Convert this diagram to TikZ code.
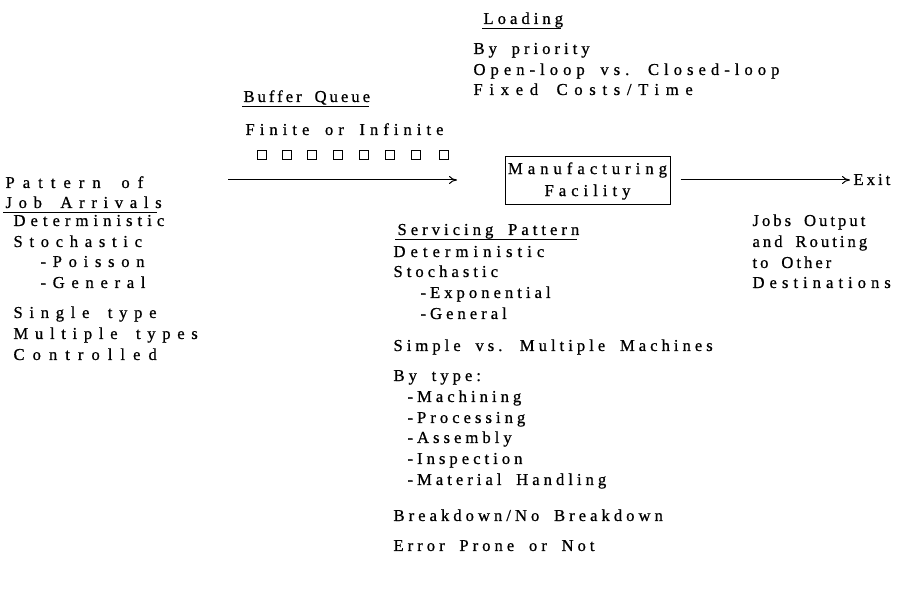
\documentclass[tikz,border=0pt]{standalone}
\usepackage{fontspec}
\setmainfont{Liberation Serif}
\newfontfamily\sptight[LetterSpace=18,WordSpace=1.8,FakeBold=0.8]{Liberation Serif}
\newfontfamily\spaced[LetterSpace=24,WordSpace=1.8,FakeBold=0.8]{Liberation Serif}
\newfontfamily\spmid[LetterSpace=30,WordSpace=1.7,FakeBold=0.8]{Liberation Serif}
\newfontfamily\spwide[LetterSpace=40,WordSpace=1.7,FakeBold=0.8]{Liberation Serif}
\newfontfamily\spwider[LetterSpace=48,WordSpace=1.7,FakeBold=0.8]{Liberation Serif}
\usetikzlibrary{calc,arrows.meta}

\tikzset{every picture/.style={line width=0.75pt}}
\tikzset{
  txt/.style={anchor=base west,inner sep=0pt,font=\fontsize{12.5}{15}\selectfont\spaced},
  txta/.style={txt,font=\fontsize{12.5}{15}\selectfont\sptight},
  txtc/.style={txt,font=\fontsize{12.5}{15}\selectfont\spmid},
  txtw/.style={txt,font=\fontsize{12.5}{15}\selectfont\spwide},
  txtww/.style={txt,font=\fontsize{12.5}{15}\selectfont\spwider},
  jobbox/.style={draw,minimum width=123.75pt,minimum height=36pt,inner sep=0pt,align=center,
    font=\fontsize{12.5}{16.5}\selectfont\spmid},
  qbox/.style={draw,line width=0.6pt,minimum size=7pt,inner sep=0pt},
  flow/.style={-{To[length=6pt,width=6pt]}}
}

\begin{document}
\begin{tikzpicture}[x=0.75pt,y=0.75pt,yscale=-1,xscale=1]
\useasboundingbox (0,0) rectangle (904,598);

% loading
\node (load) [txt] at (483,24) {Loading};
\draw ($(load.base west)+(-1,5)$) -- ($(load.base east)+(-3,5)$);
\node (load1) [txt] at (473,54) {By priority};
\node (load2) [txtc] at (473,75) {Open-loop vs. Closed-loop};
\node (load3) [txtw] at (473,95) {Fixed Costs/Time};

% buffer queue
\node (buf) [txta] at (243,102) {Buffer Queue};
\draw ($(buf.base west)+(-1,5)$) -- ($(buf.base east)+(-2,5)$);
\node (buf1) [txtc] at (245,135) {Finite or Infinite};
\foreach \i/\x in {1/262,2/287,3/312,4/338,5/364,6/390,7/416,8/444}
  \node (q\i) [qbox] at (\x,155) {};

% facility
\node (fac) [jobbox] at (587.5,181) {Manufacturing\\Facility};
\coordinate (qin) at (228,180);
\coordinate (qout) at (457,180);
\draw [flow] (qin) -- (qout);
\node (exit) [txta] at (853,185) {Exit};
\draw [flow] ($(fac.east)+(10,-1)$) -- ($(exit.base west)+(-3,-5)$);

% arrivals
\node (arr) [txtww] at (5,188) {Pattern of};
\node (arr0) [txtw] at (5,208) {Job Arrivals};
\draw ($(arr0.base west)+(-2,5)$) -- ($(arr0.base east)+(-5,5)$);
\node (arr1) [txtc] at (13,226) {Deterministic};
\node (arr2) [txtw] at (13,247) {Stochastic};
\node (arr3) [txtw] at (40,267) {-Poisson};
\node (arr4) [txtw] at (40,288) {-General};
\node (arr5) [txtw] at (13,318) {Single type};
\node (arr6) [txtw] at (13,339) {Multiple types};
\node (arr7) [txtww] at (13,360) {Controlled};

% servicing
\node (srv) [txt] at (397,235) {Servicing Pattern};
\draw ($(srv.base west)+(-2,5)$) -- ($(srv.base east)+(-3,5)$);
\node (srv1) [txtc] at (393,257) {Deterministic};
\node (srv2) [txt] at (393,277) {Stochastic};
\node (srv3) [txt] at (420,298) {-Exponential};
\node (srv4) [txt] at (420,319) {-General};
\node (srv5) [txt] at (393,351) {Simple vs. Multiple Machines};
\node (srv6) [txt] at (393,381) {By type:};
\node (srv7) [txt] at (407,402) {-Machining};
\node (srv8) [txt] at (407,423) {-Processing};
\node (srv9) [txt] at (407,443) {-Assembly};
\node (srv10) [txt] at (407,464) {-Inspection};
\node (srv11) [txt] at (407,485) {-Material Handling};
\node (srv12) [txt] at (393,521) {Breakdown/No Breakdown};
\node (srv13) [txt] at (393,551) {Error Prone or Not};

% output
\node (out1) [txta] at (752,226) {Jobs Output};
\node (out2) [txta] at (752,247) {and Routing};
\node (out3) [txta] at (752,268) {to Other};
\node (out4) [txtc] at (752,288) {Destinations};

\end{tikzpicture}
\end{document}
